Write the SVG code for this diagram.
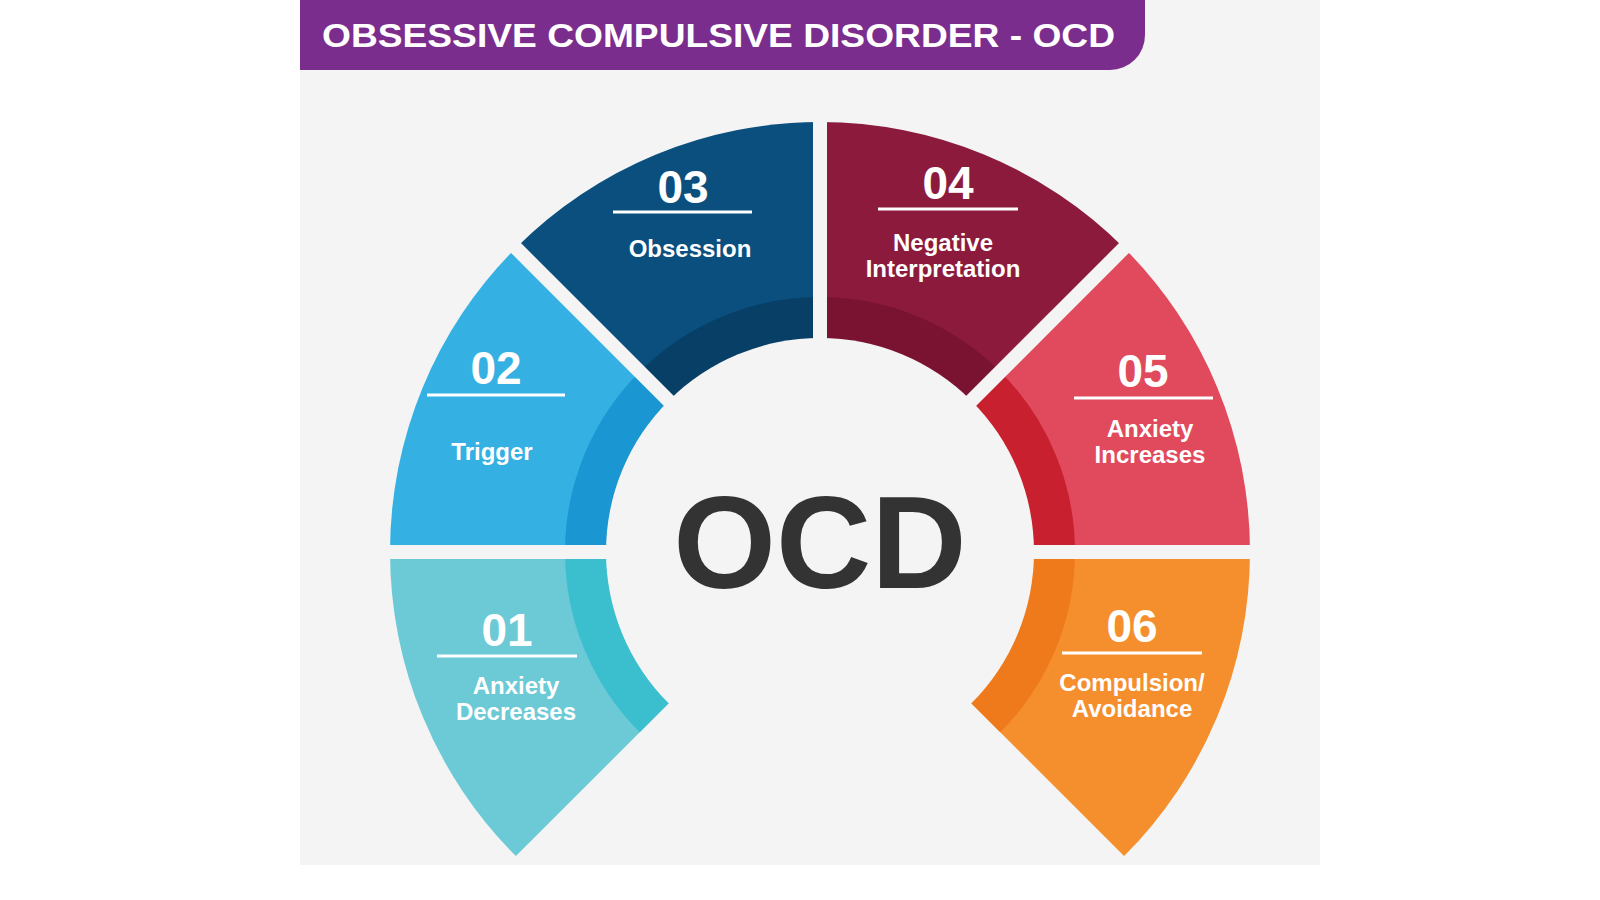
<svg xmlns="http://www.w3.org/2000/svg" width="1600" height="900" viewBox="0 0 1600 900">
<style>
.n{font-family:"Liberation Sans",Arial,sans-serif;font-weight:bold;fill:#fff;font-size:46px;text-anchor:middle}
.l{font-family:"Liberation Sans",Arial,sans-serif;font-weight:bold;fill:#fff;font-size:24px;text-anchor:middle}
.u{stroke:#fff;stroke-width:3}
.gap{stroke:#f4f4f4;stroke-width:14}
</style>
<rect width="1600" height="900" fill="#fff"/>
<rect x="300" y="0" width="1020" height="865" fill="#f4f4f4"/>
<g id="header">
<path d="M300 0 H1145 V35 A35 35 0 0 1 1110 70 H300 Z" fill="#7b2d8e"/>
<text x="322" y="47" font-family="Liberation Sans,Arial,sans-serif" font-weight="bold" font-size="33" fill="#fff" textLength="793" lengthAdjust="spacingAndGlyphs">OBSESSIVE COMPULSIVE DISORDER - OCD</text>
</g>
<g id="seg01">
<path d="M820 552 L515.9 856.1 A430 430 0 0 1 390 552 Z" fill="#6cc9d6"/>
<path d="M820 552 L639.7 732.3 A255 255 0 0 1 565 552 Z" fill="#3bbfcf"/>
</g>
<g id="seg02">
<path d="M820 552 L390 552 A430 430 0 0 1 515.9 247.9 Z" fill="#35b0e2"/>
<path d="M820 552 L565 552 A255 255 0 0 1 639.7 371.7 Z" fill="#1a96d2"/>
</g>
<g id="seg03">
<path d="M820 552 L515.9 247.9 A430 430 0 0 1 820 122 Z" fill="#0a4f7d"/>
<path d="M820 552 L639.7 371.7 A255 255 0 0 1 820 297 Z" fill="#083f66"/>
</g>
<g id="seg04">
<path d="M820 552 L820 122 A430 430 0 0 1 1124.1 247.9 Z" fill="#8c1a3c"/>
<path d="M820 552 L820 297 A255 255 0 0 1 1000.3 371.7 Z" fill="#7a1232"/>
</g>
<g id="seg05">
<path d="M820 552 L1124.1 247.9 A430 430 0 0 1 1250 552 Z" fill="#e04a5c"/>
<path d="M820 552 L1000.3 371.7 A255 255 0 0 1 1075 552 Z" fill="#c8202e"/>
</g>
<g id="seg06">
<path d="M820 552 L1250 552 A430 430 0 0 1 1124.1 856.1 Z" fill="#f58f2e"/>
<path d="M820 552 L1075 552 A255 255 0 0 1 1000.3 732.3 Z" fill="#ef7a1c"/>
</g>
<g id="gaps">
<line class="gap" x1="820" y1="552" x2="380" y2="552"/>
<line class="gap" x1="820" y1="552" x2="1260" y2="552"/>
<line class="gap" x1="820" y1="552" x2="820" y2="115"/>
<line class="gap" x1="820" y1="552" x2="510" y2="242"/>
<line class="gap" x1="820" y1="552" x2="1130" y2="242"/>
</g>
<g id="center">
<circle cx="820" cy="552" r="214" fill="#f4f4f4"/>
<text x="820" y="588" font-family="Liberation Sans,Arial,sans-serif" font-weight="bold" font-size="132" fill="#333" text-anchor="middle">OCD</text>
</g>
<g id="labels">
<text class="n" x="683" y="203">03</text><line class="u" x1="613" y1="212" x2="752" y2="212"/><text class="l" x="690" y="257">Obsession</text>
<text class="n" x="948" y="199">04</text><line class="u" x1="878" y1="209" x2="1018" y2="209"/><text class="l" x="943" y="251">Negative</text><text class="l" x="943" y="277">Interpretation</text>
<text class="n" x="496" y="384">02</text><line class="u" x1="427" y1="395" x2="565" y2="395"/><text class="l" x="492" y="460">Trigger</text>
<text class="n" x="1143" y="387">05</text><line class="u" x1="1074" y1="398" x2="1213" y2="398"/><text class="l" x="1150" y="437">Anxiety</text><text class="l" x="1150" y="463">Increases</text>
<text class="n" x="507" y="646">01</text><line class="u" x1="437" y1="656" x2="577" y2="656"/><text class="l" x="516" y="694">Anxiety</text><text class="l" x="516" y="720">Decreases</text>
<text class="n" x="1132" y="642">06</text><line class="u" x1="1062" y1="653" x2="1202" y2="653"/><text class="l" x="1132" y="691">Compulsion/</text><text class="l" x="1132" y="717">Avoidance</text>
</g>
</svg>
